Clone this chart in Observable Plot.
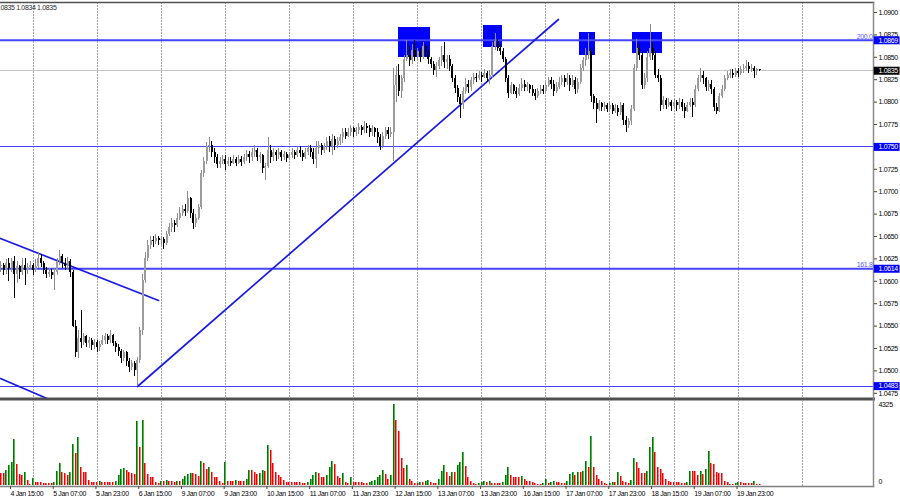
<!DOCTYPE html>
<html><head><meta charset="utf-8">
<script src="https://cdn.jsdelivr.net/npm/d3@7"></script>
<script src="https://cdn.jsdelivr.net/npm/@observablehq/plot@0.6"></script>
<style>
html,body{margin:0;padding:0;background:#fff;width:900px;height:500px;overflow:hidden}
#chart svg{display:block}
</style></head><body><div id="chart"></div>
<script>
// ---- DATA (prices in pips: 10835 = 1.0835) ----
const firstIndex = -3;            // bar index of first candle (0 = 4 Jan 15:00, H1)
const firstOpen = 10616;
const closes = [
10618,10612,10620,10614,10622,10608,10616,10610,10618,10612,
10615,10618,10612,10616,10626,10620,10612,10608,10610,10606,
10610,10622,10628,10620,10616,10622,10610,10550,10520,10536,
10532,10538,10531,10534,10528,10532,10526,10530,10534,10538,
10534,10539,10531,10526,10522,10514,10520,10510,10504,10508,
10500,10512,10545,10601,10625,10640,10646,10644,10648,10645,
10647,10642,10652,10660,10665,10662,10670,10676,10680,10678,
10692,10676,10664,10670,10682,10720,10734,10750,10752,10744,
10738,10730,10734,10736,10730,10734,10732,10736,10732,10736,
10733,10738,10742,10738,10744,10746,10738,10740,10726,10728,
10746,10738,10744,10740,10744,10738,10741,10737,10740,10744,
10740,10746,10743,10738,10744,10748,10744,10736,10748,10752,
10746,10750,10756,10750,10758,10752,10756,10760,10766,10762,
10766,10770,10766,10768,10772,10768,10773,10770,10766,10770,
10766,10760,10750,10762,10768,10764,10766,10818,10830,10812,
10826,10848,10852,10846,10858,10850,10856,10850,10862,10855,
10848,10842,10835,10840,10846,10852,10844,10848,10840,10826,
10815,10805,10797,10812,10820,10816,10824,10828,10826,10830,
10828,10832,10826,10830,10862,10868,10860,10856,10848,10826,
10810,10818,10812,10808,10815,10820,10816,10818,10814,10810,
10806,10812,10814,10812,10818,10824,10820,10812,10816,10822,
10826,10822,10826,10818,10824,10814,10822,10838,10846,10852,
10856,10806,10798,10792,10798,10794,10796,10792,10796,10790,
10793,10788,10796,10780,10774,10778,10792,10838,10860,10852,
10818,10826,10850,10860,10852,10830,10826,10796,10802,10796,
10800,10795,10799,10796,10800,10794,10790,10796,10800,10796,
10814,10826,10830,10826,10816,10820,10814,10794,10790,10806,
10814,10826,10830,10832,10830,10834,10832,10836,10838,10840,
10836,10838,10834,10836,10835];
const highs = [
10622,10620,10624,10626,10625,10628,10622,10618,10625,10626,
10620,10622,10620,10624,10632,10630,10622,10615,10614,10613,
10614,10626,10634,10630,10625,10627,10624,10612,10556,10545,
10567,10542,10540,10537,10536,10535,10534,10533,10540,10542,
10541,10545,10541,10533,10530,10524,10523,10522,10514,10512,
10510,10515,10548,10608,10632,10646,10650,10650,10652,10650,
10650,10649,10656,10664,10670,10668,10676,10682,10685,10686,
10700,10694,10680,10675,10686,10724,10738,10755,10760,10756,
10748,10742,10738,10740,10740,10738,10738,10740,10738,10740,
10739,10742,10746,10745,10748,10752,10748,10744,10742,10732,
10760,10752,10748,10746,10748,10746,10745,10744,10744,10748,
10746,10750,10750,10746,10748,10752,10752,10748,10756,10756,
10754,10754,10760,10762,10764,10762,10760,10764,10770,10770,
10770,10774,10772,10772,10776,10774,10778,10776,10774,10774,
10772,10770,10764,10766,10772,10772,10772,10838,10840,10842,
10830,10852,10869,10862,10864,10869,10860,10860,10866,10864,
10858,10850,10845,10844,10850,10862,10866,10852,10852,10842,
10830,10818,10808,10816,10826,10824,10828,10832,10832,10834,
10833,10836,10834,10835,10866,10877,10870,10864,10860,10850,
10830,10822,10820,10816,10820,10826,10824,10822,10820,10818,
10814,10815,10818,10818,10822,10828,10828,10824,10822,10828,
10830,10830,10832,10830,10830,10828,10826,10842,10850,10860,
10877,10860,10808,10804,10802,10800,10800,10798,10800,10798,
10797,10796,10800,10798,10784,10782,10796,10842,10870,10864,
10856,10832,10856,10887,10866,10856,10836,10830,10806,10804,
10804,10802,10803,10802,10804,10803,10798,10800,10804,10804,
10818,10830,10838,10834,10828,10824,10824,10816,10798,10810,
10818,10830,10834,10836,10836,10838,10837,10840,10842,10846,
10844,10842,10840,10838,10836];
const lows = [
10610,10606,10608,10600,10610,10581,10598,10602,10606,10595,
10608,10612,10607,10610,10614,10615,10608,10603,10604,10602,
10590,10606,10618,10614,10612,10613,10604,10548,10515,10514,
10525,10528,10526,10525,10523,10524,10520,10522,10528,10530,
10530,10531,10527,10521,10516,10508,10510,10505,10498,10500,
10494,10483,10508,10540,10598,10622,10636,10638,10641,10640,
10640,10636,10640,10650,10655,10654,10660,10668,10672,10672,
10676,10670,10658,10660,10668,10680,10716,10730,10744,10738,
10732,10726,10726,10730,10724,10728,10728,10730,10728,10730,
10728,10730,10734,10732,10734,10738,10734,10732,10720,10713,
10726,10732,10734,10734,10736,10734,10735,10733,10735,10737,
10736,10738,10738,10734,10736,10740,10738,10730,10726,10742,
10740,10743,10746,10744,10740,10746,10748,10752,10754,10758,
10760,10762,10760,10762,10764,10763,10765,10765,10760,10762,
10760,10754,10746,10748,10758,10758,10760,10734,10800,10806,
10804,10822,10845,10840,10842,10845,10846,10844,10848,10850,
10842,10838,10830,10828,10836,10840,10838,10836,10834,10822,
10810,10800,10782,10792,10808,10810,10812,10820,10822,10824,
10822,10826,10822,10820,10826,10858,10856,10852,10844,10822,
10804,10808,10808,10804,10806,10812,10812,10812,10810,10806,
10802,10804,10808,10808,10810,10816,10814,10806,10810,10814,
10818,10816,10818,10812,10816,10808,10810,10820,10834,10840,
10848,10800,10792,10776,10790,10790,10790,10788,10790,10786,
10787,10784,10785,10774,10766,10770,10774,10790,10834,10846,
10814,10814,10822,10846,10846,10826,10822,10790,10792,10792,
10794,10790,10793,10790,10792,10790,10782,10788,10794,10783,
10794,10812,10822,10820,10812,10812,10808,10790,10786,10788,
10804,10812,10824,10826,10826,10828,10828,10830,10832,10834,
10832,10833,10826,10830,10834];
const volumes = [
650,650,810,1080,1240,2430,1130,590,540,700,
270,60,380,160,160,160,110,110,110,110,
160,760,1190,700,650,540,700,2210,1730,2540,
970,700,700,270,160,160,160,220,160,160,
160,160,160,220,540,860,920,810,700,650,
590,3400,2050,3460,1190,590,430,430,160,110,
220,220,270,220,220,160,220,220,320,490,
590,650,650,590,490,1300,1190,860,970,700,
430,430,220,110,1240,220,220,220,270,220,
220,220,320,810,810,700,590,650,810,760,
2160,1890,1190,700,540,430,270,160,160,160,
160,160,160,110,110,160,320,540,700,650,
430,430,540,970,1300,1130,490,380,650,160,
110,430,160,160,160,160,110,110,160,220,
270,430,540,810,590,320,540,4325,3460,2860,
1460,920,1080,320,220,110,110,160,160,220,
270,160,110,110,320,760,1080,700,490,700,
700,1080,1240,1780,1030,430,220,110,60,110,
160,220,160,220,110,110,110,110,160,540,
970,540,430,430,430,490,320,220,220,160,
110,60,60,110,320,110,160,220,160,160,
110,110,220,590,700,540,700,700,760,1300,
970,2590,970,540,320,220,110,60,110,160,
160,700,490,220,160,110,270,1460,1240,920,
650,650,760,2050,2540,1780,970,860,650,320,
220,160,160,160,160,110,110,160,760,760,
760,540,760,590,860,1840,1190,1130,700,650,
650,220,160,60,60,110,160,160,110,110,
110,110,220,60,60];
const volumeMax = 4325;

// 1.0750 is shown by its own level marker, so it is not repeated as a plain tick label
const priceTicks = [1.0475,1.0500,1.0525,1.0550,1.0575,1.0600,1.0625,1.0650,1.0675,1.0700,1.0725,1.0775,1.0800,1.0825,1.0850,1.0875,1.0900];
const timeLabels = ["4 Jan 15:00","5 Jan 07:00","5 Jan 23:00","6 Jan 15:00","9 Jan 07:00","9 Jan 23:00","10 Jan 15:00","11 Jan 07:00","11 Jan 23:00","12 Jan 15:00","13 Jan 07:00","13 Jan 23:00","16 Jan 15:00","17 Jan 07:00","17 Jan 23:00","18 Jan 15:00","19 Jan 07:00","19 Jan 23:00"];
const timeLabelBars = [0,16,32,48,64,80,96,112,128,144,160,176,192,208,224,240,256,272];
const dayStartBars = [9,33,57,81,105,129,153,177,201,225,249,273,297];

const levelsThick = [1.0869, 1.0614];
const levelsThin = [1.0750, 1.0483];
const fiboTexts = ["200.0", "161.8"];
const fiboPrices = [1.0869, 1.0614];
const bidPrice = 1.0835;
const markerPrices = [1.0869, 1.0835, 1.0750, 1.0614, 1.0483];
const markerIsBid = [false, true, false, false, false];
const headerText = "1.0835 1.0834 1.0835";

const trendDownA_bar = [-3.18, 56.0], trendDownA_price = [1.06478, 1.05786];
const trendDownB_bar = [-3.18, 30.0], trendDownB_price = [1.04915, 1.04490];
const trendUp_bar = [48.1, 205.7], trendUp_price = [1.04826, 1.08922];

const boxStart = [145.8, 177.6, 213.6, 233.4];
const boxEnd   = [157.8, 184.8, 219.6, 244.7];
const boxTop   = [1.08830, 1.08855, 1.08777, 1.08777];
const boxBottom= [1.08500, 1.08610, 1.08520, 1.08540];

// ---- BUILD ----
const lens = [closes.length, highs.length, lows.length, volumes.length];
if (new Set(lens).size !== 1) document.body.insertAdjacentHTML("beforeend", "<p style='position:absolute;top:200px;left:300px;color:red'>LEN " + lens.join(",") + "</p>");

const bars = closes.map((c, k) => {
  const o = k === 0 ? firstOpen : closes[k - 1];
  const h = Math.max(highs[k], o, c), l = Math.min(lows[k], o, c);
  let lo = Math.min(o, c), hi = Math.max(o, c);
  if (hi - lo < 0.9) { const m = (hi + lo) / 2; lo = m - 0.45; hi = m + 0.45; }
  return {i: firstIndex + k, high: h / 1e4, low: l / 1e4, bodyLo: lo / 1e4, bodyHi: hi / 1e4, up: c > o};
});
const vols = volumes.map((v, k) => ({i: firstIndex + k, v, up: k === 0 ? false : v > volumes[k - 1]}));

const xDomain = [-3.182, 323.66];
const axisBoxBar = [323.95, 333.6];
const fontFam = "'Liberation Sans',Arial,sans-serif";
const baseStyle = {fontFamily: fontFam, fontSize: "7px", letterSpacing: "-0.35px", background: "#fff", color: "#000", overflow: "visible"};
const BLUE_LINE = "#4545ff";
const labelMap = new Map(timeLabelBars.map((b, k) => [b, timeLabels[k]]));
const line = (bs, ps) => bs.map((b, k) => ({b, p: ps[k]}));

const pricePlot = Plot.plot({
  width: 900, height: 400,
  marginLeft: 0, marginRight: 27, marginTop: 2, marginBottom: 1.5,
  x: {domain: xDomain, axis: null, label: null},
  y: {domain: [1.0475, 1.09], range: [392.8, 12], axis: null, label: null},
  color: {type: "identity"},
  style: baseStyle,
  marks: [
    Plot.ruleX(dayStartBars, {x: d => d, stroke: "#a4a4a4", strokeDasharray: "2,1", shapeRendering: "crispEdges", clip: true}),
    Plot.ruleY([bidPrice], {y: d => d, stroke: "#c6c6c6", shapeRendering: "crispEdges"}),
    Plot.rect(boxStart.map((_, k) => k), {x1: k => boxStart[k], x2: k => boxEnd[k], y1: k => boxBottom[k], y2: k => boxTop[k], fill: "#0000ff", shapeRendering: "crispEdges"}),
    Plot.ruleY(levelsThick, {y: d => d, stroke: BLUE_LINE, strokeWidth: 2}),
    Plot.ruleY(levelsThin, {y: d => d, stroke: BLUE_LINE, strokeWidth: 1, shapeRendering: "crispEdges"}),
    Plot.line(line(trendDownA_bar, trendDownA_price), {x: "b", y: "p", stroke: "#1a1ae8", strokeWidth: 1.7, clip: true}),
    Plot.line(line(trendDownB_bar, trendDownB_price), {x: "b", y: "p", stroke: "#1a1ae8", strokeWidth: 1.7, clip: true}),
    Plot.line(line(trendUp_bar, trendUp_price), {x: "b", y: "p", stroke: "#1a1ae8", strokeWidth: 1.7, clip: true}),
    Plot.ruleX(bars, {x: "i", y1: "low", y2: "high", stroke: d => d.up ? "#8c8c8c" : "#000000", strokeWidth: 1, shapeRendering: "crispEdges", clip: true}),
    Plot.ruleX(bars, {x: "i", y1: "bodyLo", y2: "bodyHi", stroke: d => d.up ? "#9c9c9c" : "#000000", strokeWidth: 2, shapeRendering: "crispEdges", clip: true}),
    Plot.frame({anchor: "top", stroke: "#505050", strokeWidth: 1.5}),
    Plot.frame({anchor: "bottom", stroke: "#505050", strokeWidth: 3}),
    Plot.frame({anchor: "right", stroke: "#8a8a8a", strokeWidth: 1.5}),
    Plot.axisY(priceTicks, {anchor: "right", label: null, tickSize: 3, tickPadding: 2, tickFormat: d => d.toFixed(4), stroke: "#444"}),
    Plot.ruleY(markerPrices, {y: d => d, x1: axisBoxBar[0], x2: axisBoxBar[1], stroke: (d, k) => markerIsBid[k] ? "#000000" : "#0000ff", strokeWidth: 8}),
    Plot.text(markerPrices, {y: d => d, text: d => d.toFixed(4), frameAnchor: "right", dx: 5, textAnchor: "start", fill: "#ffffff"}),
    Plot.text(fiboPrices, {y: d => d, text: (d, k) => fiboTexts[k], frameAnchor: "right", dx: -1, dy: -4, textAnchor: "end", fill: "#5a5aff"}),
    Plot.text([headerText], {text: d => d, frameAnchor: "top-left", dx: -5.2, dy: 4.8, lineAnchor: "middle", textAnchor: "start", fill: "#2a2a2a"})
  ]
});

const volPlot = Plot.plot({
  width: 900, height: 100,
  marginLeft: 0, marginRight: 27, marginTop: 0, marginBottom: 14,
  x: {domain: xDomain, axis: null, label: null},
  y: {domain: [0, volumeMax], range: [85, 4], axis: null, label: null},
  color: {type: "identity"},
  style: baseStyle,
  marks: [
    Plot.ruleX(dayStartBars, {x: d => d, stroke: "#a4a4a4", strokeDasharray: "2,1", shapeRendering: "crispEdges", clip: true}),
    Plot.ruleX(vols, {x: "i", y1: 0, y2: "v", stroke: d => d.up ? "#007800" : "#f00000", strokeWidth: 1, dx: -0.5, shapeRendering: "crispEdges"}),
    Plot.ruleX(vols, {x: "i", y1: 0, y2: "v", stroke: d => d.up ? "#50b850" : "#ff7a7a", strokeWidth: 1, dx: 0.5, shapeRendering: "crispEdges"}),
    Plot.frame({anchor: "bottom", stroke: "#808080", strokeWidth: 1.5}),
    Plot.frame({anchor: "right", stroke: "#8a8a8a", strokeWidth: 1.5}),
    Plot.axisX({ticks: timeLabelBars, tickFormat: d => labelMap.get(d), anchor: "bottom", label: null, tickSize: 3, tickPadding: 2, textAnchor: "start", dx: 1.5, stroke: "#444"}),
    Plot.text([volumeMax], {y: d => d, text: d => String(d), frameAnchor: "right", dx: 5, textAnchor: "start"}),
    Plot.text([0], {y: d => d, text: d => String(d), frameAnchor: "right", dx: 5, dy: -4, textAnchor: "start"})
  ]
});

const host = document.getElementById("chart");
host.appendChild(pricePlot);
host.appendChild(volPlot);
</script>
</body></html>
